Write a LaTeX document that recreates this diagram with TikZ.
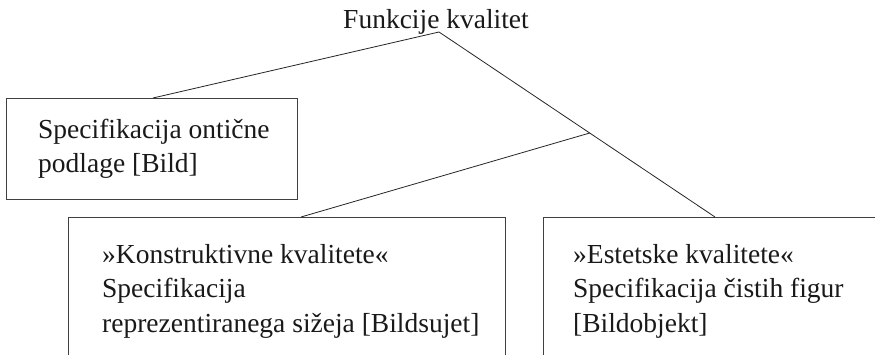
\documentclass[tikz,border=0pt]{standalone}
\usepackage{fontspec}
\setmainfont{Liberation Serif}
\usetikzlibrary{calc}
\tikzset{
  box/.style={draw=black!75, line width=1.1pt, rectangle, inner sep=0pt, anchor=north west},
  txt/.style={inner sep=0pt, anchor=north west, align=left, text=black!90,
              font=\fontsize{27.5}{34.5}\selectfont},
  link/.style={draw=black!85, line width=0.8pt}
}
\begin{document}
\begin{tikzpicture}[x=1pt,y=-1pt]
\useasboundingbox (0,0) rectangle (875,354);
\clip (0,0) rectangle (875,354);
\fill[white] (0,0) rectangle (875,354);
% title
\node[inner sep=0pt, anchor=base, text=black!90, font=\fontsize{27.5}{34.5}\selectfont] (title) at (436,28) {Funkcije kvalitet};
\coordinate (ts) at (439,32);
% boxes
\node[box, minimum width=291pt, minimum height=101pt] (b1) at (6,98) {};
\node[box, minimum width=437pt, minimum height=160pt] (b2) at (68,217) {};
\node[box, minimum width=360pt, minimum height=160pt] (b3) at (543,217) {};
% texts
\node[txt] (t1) at (38,113.85) {\strut Specifikacija ontične\\podlage [Bild]};
\node[txt] (t2) at (102,238.85) {\strut »Konstruktivne kvalitete«\\Specifikacija\\reprezentiranega sižeja [Bildsujet]};
\node[txt] (t3) at (573,238.85) {\strut »Estetske kvalitete«\\Specifikacija čistih figur\\[0pt][Bildobjekt]};
% connector end points on box tops
\coordinate (e1) at ([xshift=147pt]b1.north west);
\coordinate (e2) at ([xshift=233pt]b2.north west);
\coordinate (e3) at ([xshift=172pt]b3.north west);
\coordinate (j) at ($(ts)!0.546!(e3)$);
\draw[link] (ts) -- (e1);
\draw[link] (ts) -- (e3);
\draw[link] (j) -- (e2);
\end{tikzpicture}
\end{document}
